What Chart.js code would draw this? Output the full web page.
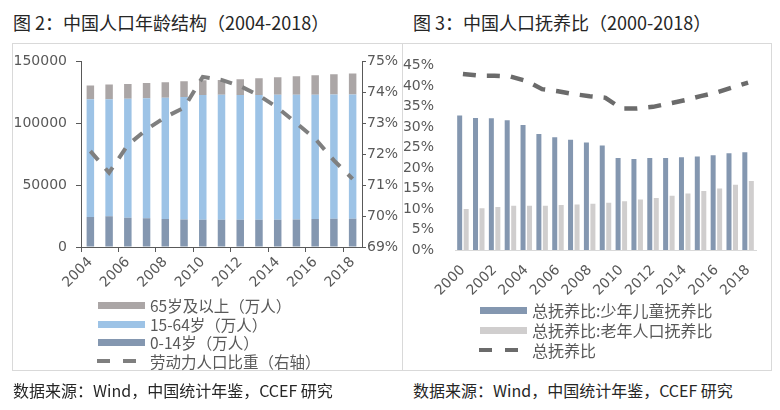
<!DOCTYPE html>
<html>
<head>
<meta charset="utf-8">
<script src="https://cdn.jsdelivr.net/npm/chart.js@4.4.1/dist/chart.umd.min.js"></script>
<style>
  body { margin: 0; width: 780px; height: 410px; background: #fff; position: relative; overflow: hidden;
         font-family: "Noto Sans CJK SC", sans-serif; }
  .frame { position: absolute; border: 1px solid #d9d9d9; box-sizing: border-box; }
  .title { position: absolute; top: 9px; font-size: 18px; line-height: 26px; color: #262626; white-space: nowrap; }
  .src { position: absolute; top: 378px; font-size: 16px; line-height: 24px; color: #262626; white-space: nowrap; }
  canvas { position: absolute; }
  .leg { position: absolute; height: 20px; line-height: 20px; color: #595959; white-space: nowrap; }
  .leg .sw { position: absolute; left: 0; top: 7px; height: 7px; width: 47px; }
  .leg .dash { position: absolute; top: 8px; height: 4px; width: 13px; }
  .leg span { position: absolute; }
</style>
</head>
<body>
<div class="frame" style="left:12px;top:43px;width:391px;height:328px"></div>
<div class="frame" style="left:402px;top:43px;width:370px;height:328px"></div>
<div class="title" style="left:13px">图 2：中国人口年龄结构（2004-2018）</div>
<div class="title" style="left:413px">图 3：中国人口抚养比（2000-2018）</div>
<canvas id="c1" width="389" height="252" style="left:13px;top:44px"></canvas>
<canvas id="c2" width="368" height="256" style="left:403px;top:44px"></canvas>
<div id="leg1"></div>
<div id="leg2"></div>
<div class="src" style="left:13px">数据来源：Wind，中国统计年鉴，CCEF 研究</div>
<div class="src" style="left:413px">数据来源：Wind，中国统计年鉴，CCEF 研究</div>
<script>
// 图2 数据（万人 / %）
const years1 = ['2004', '2005', '2006', '2007', '2008', '2009', '2010', '2011', '2012', '2013', '2014', '2015', '2016', '2017', '2018'];
const age0to14 = [24300, 24800, 23700, 23300, 22700, 22200, 22100, 22100, 22000, 22000, 22100, 22300, 22600, 22800, 22900];
const age15to64 = [95100, 94600, 96100, 96900, 97900, 99000, 100700, 100900, 100800, 100800, 100900, 100700, 100500, 100400, 100400];
const age65plus = [11100, 11900, 12000, 12400, 12600, 12800, 12000, 12000, 12800, 13600, 14200, 15000, 15700, 16400, 16900];
const laborShare = [72.1, 71.4, 72.3, 72.8, 73.2, 73.5, 74.5, 74.4, 74.2, 73.9, 73.5, 73.0, 72.5, 71.8, 71.2];

// 图3 数据（%）
const years2 = ['2000', '2001', '2002', '2003', '2004', '2005', '2006', '2007', '2008', '2009', '2010', '2011', '2012', '2013', '2014', '2015', '2016', '2017', '2018'];
const childRatio = [32.8, 32.2, 32.1, 31.6, 30.5, 28.3, 27.5, 26.9, 26.2, 25.5, 22.4, 22.2, 22.4, 22.4, 22.6, 22.8, 23.1, 23.6, 23.8];
const oldRatio = [10.0, 10.2, 10.5, 10.8, 10.8, 10.8, 11.0, 11.1, 11.3, 11.5, 11.9, 12.3, 12.7, 13.2, 13.8, 14.4, 15.0, 15.9, 16.8];
const totalRatio = [42.9, 42.5, 42.5, 42.3, 41.2, 39.2, 38.7, 38.0, 37.5, 37.1, 34.5, 34.5, 34.9, 35.7, 36.5, 37.5, 38.4, 39.6, 40.8];

const tickFont = { family: 'DejaVu Sans', size: 14 };
const tickColor = '#595959';
const axisColor = '#595959';

new Chart(document.getElementById('c1'), {
  type: 'bar',
  data: {
    labels: years1,
    datasets: [
      { type: 'line', label: '劳动力人口比重（右轴）', data: laborShare, yAxisID: 'y1',
        borderColor: '#7f7f7f', borderWidth: 4, borderDash: [12, 11], pointRadius: 0, tension: 0, fill: false },
      { label: '0-14岁（万人）', data: age0to14, backgroundColor: '#8497b0', yAxisID: 'y' },
      { label: '15-64岁（万人）', data: age15to64, backgroundColor: '#9dc3e6', yAxisID: 'y' },
      { label: '65岁及以上（万人）', data: age65plus, backgroundColor: '#aba6a6', yAxisID: 'y' }
    ]
  },
  options: {
    responsive: false,
    animation: false,
    layout: { padding: { top: 16, left: 0, right: 0, bottom: 0 } },
    plugins: { legend: { display: false }, tooltip: { enabled: false } },
    datasets: { bar: { barPercentage: 0.4, categoryPercentage: 1 } },
    scales: {
      x: {
        stacked: true,
        grid: { drawOnChartArea: false, tickLength: 5, offset: true,
                color: ctx => (ctx.index % 2 === 0 ? axisColor : 'rgba(0,0,0,0)') },
        border: { color: axisColor },
        ticks: { autoSkip: false, minRotation: 45, maxRotation: 45, padding: 2, color: tickColor, font: tickFont,
                 callback: (v, i) => (i % 2 === 0 ? years1[i] : '') },
        afterFit: s => { s.height = 49; }
      },
      y: {
        stacked: true, min: 0, max: 150000,
        grid: { drawOnChartArea: false, tickLength: 5, color: axisColor },
        border: { color: axisColor },
        ticks: { stepSize: 50000, padding: 9, color: tickColor, font: tickFont, callback: v => String(v) },
        afterFit: s => { s.width = 68; }
      },
      y1: {
        position: 'right', min: 69, max: 75,
        grid: { drawOnChartArea: false, tickLength: 4, color: axisColor },
        border: { color: axisColor },
        ticks: { stepSize: 1, padding: 1, color: tickColor, font: tickFont, callback: v => v + '%' },
        afterFit: s => { s.width = 40; }
      }
    }
  }
});

new Chart(document.getElementById('c2'), {
  type: 'bar',
  data: {
    labels: years2,
    datasets: [
      { type: 'line', label: '总抚养比', data: totalRatio,
        borderColor: '#6b6b6b', borderWidth: 4.5, borderDash: [13, 11], pointRadius: 0, tension: 0, fill: false },
      { label: '总抚养比:少年儿童抚养比', data: childRatio, backgroundColor: '#8497b0' },
      { label: '总抚养比:老年人口抚养比', data: oldRatio, backgroundColor: '#d0cece' }
    ]
  },
  options: {
    responsive: false,
    animation: false,
    layout: { padding: { top: 11, right: 15, left: 0, bottom: 0 } },
    plugins: { legend: { display: false }, tooltip: { enabled: false } },
    datasets: { bar: { categoryPercentage: 0.82, barPercentage: 0.77 } },
    scales: {
      x: {
        grid: { display: false },
        border: { display: true, color: '#d9d9d9' },
        ticks: { autoSkip: false, minRotation: 45, maxRotation: 45, padding: 4, color: tickColor, font: tickFont,
                 callback: (v, i) => (i % 2 === 0 ? years2[i] : '') },
        afterFit: s => { s.height = 50; }
      },
      y: {
        min: 0, max: 45,
        grid: { display: false },
        border: { display: false },
        ticks: { stepSize: 5, padding: 13, color: tickColor, font: tickFont, callback: v => v + '%' },
        afterFit: s => { s.width = 52; }
      }
    }
  }
});

// 图例（与原图一样竖排）
function legend(id, items, left, top, step, fontSize) {
  const box = document.getElementById(id);
  items.forEach((it, k) => {
    const row = document.createElement('div');
    row.className = 'leg';
    row.style.left = left + 'px';
    row.style.top = (top + k * step) + 'px';
    row.style.fontSize = fontSize + 'px';
    if (it.dash) {
      [0, 26].forEach(x => {
        const d = document.createElement('div');
        d.className = 'dash';
        d.style.left = (x - 1) + 'px';
        d.style.background = it.color;
        row.appendChild(d);
      });
    } else {
      const sw = document.createElement('div');
      sw.className = 'sw';
      sw.style.background = it.color;
      row.appendChild(sw);
    }
    const t = document.createElement('span');
    t.style.left = '52px';
    t.textContent = it.text;
    row.appendChild(t);
    box.appendChild(row);
  });
}

legend('leg1', [
  { text: '65岁及以上（万人）', color: '#aba6a6' },
  { text: '15-64岁（万人）', color: '#9dc3e6' },
  { text: '0-14岁（万人）', color: '#8497b0' },
  { text: '劳动力人口比重（右轴）', color: '#7f7f7f', dash: true }
], 98, 295, 18.5, 15.5);

legend('leg2', [
  { text: '总抚养比:少年儿童抚养比', color: '#8497b0' },
  { text: '总抚养比:老年人口抚养比', color: '#d0cece' },
  { text: '总抚养比', color: '#6b6b6b', dash: true }
], 480, 300, 19.8, 16);
</script>
</body>
</html>
